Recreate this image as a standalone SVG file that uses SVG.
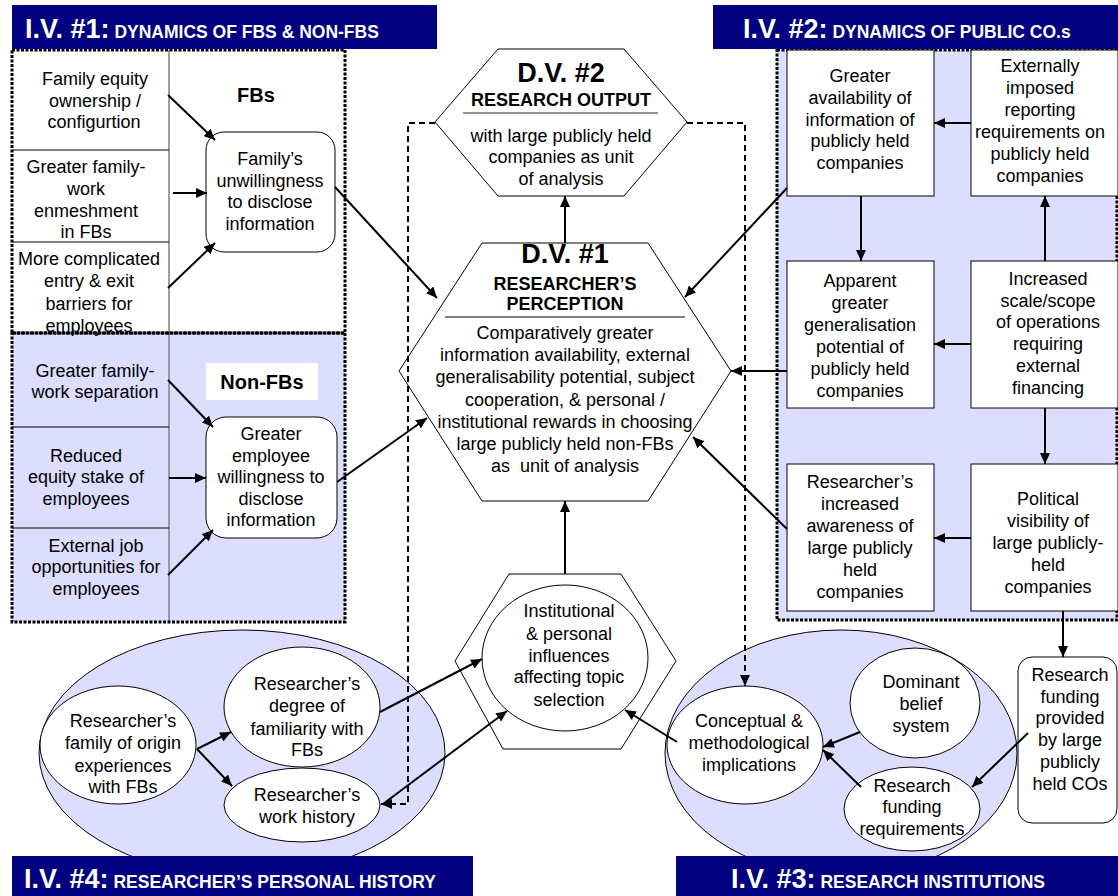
<svg xmlns="http://www.w3.org/2000/svg" width="1118" height="896" viewBox="0 0 1118 896">
  <style>
    text { font-family: "Liberation Sans", Arial, sans-serif; font-size: 18px; fill: #000; text-anchor: middle; }
    .hdr { text-anchor: start; fill: #fff; font-weight: bold; }
    .hbig { font-size: 27px; }
    .hsm { font-size: 17.5px; }
    .b { font-weight: bold; }
    .dv { font-size: 27px; font-weight: bold; }
    .band { fill: #000080; }
    .lav { fill: #DDDDFF; }
    .dot { fill: none; stroke: #000; stroke-width: 3; stroke-dasharray: 3 1.5; }
    .box { fill: #fff; stroke: #000; stroke-width: 1; }
    .arrow { fill: none; stroke: #000; stroke-width: 2; marker-end: url(#ah); }
    .dash { fill: none; stroke: #000; stroke-width: 2; stroke-dasharray: 6 4; marker-end: url(#ah); }
  </style>
  <defs>
    <marker id="ah" markerUnits="userSpaceOnUse" markerWidth="11" markerHeight="10" refX="11" refY="5" orient="auto">
      <path d="M0,0 L11,5 L0,10 z" fill="#000"/>
    </marker>
  </defs>

  <rect width="1118" height="896" fill="#fff"/>

  <!-- I.V. #1 panel: FBs (white) and Non-FBs (lavender) -->
  <g id="iv1">
    <rect x="12" y="333" width="333" height="289" class="lav"/>
    <line x1="169" y1="50" x2="169" y2="622" stroke="#7f7f7f" stroke-width="1.5"/>
    <line x1="12" y1="150" x2="169" y2="150" stroke="#000" stroke-width="1"/>
    <line x1="12" y1="242" x2="169" y2="242" stroke="#000" stroke-width="1"/>
    <line x1="12" y1="427" x2="169" y2="427" stroke="#000" stroke-width="1"/>
    <line x1="12" y1="528" x2="169" y2="528" stroke="#000" stroke-width="1"/>
    <rect x="12" y="50" width="333" height="283" class="dot"/>
    <rect x="12" y="333" width="333" height="289" class="dot"/>
  </g>

  <g id="iv1-header">
    <rect x="12" y="5" width="425" height="44" class="band"/>
    <text x="25" y="38" class="hdr"><tspan class="hbig">I.V. #1:</tspan><tspan class="hsm"> DYNAMICS OF FBS &amp; NON-FBS</tspan></text>
  </g>

  <g id="fb-equity"><text x="95" y="85">Family equity</text><text x="95" y="107">ownership /</text><text x="94" y="128">configurtion</text></g>
  <g id="fb-enmeshment"><text x="86" y="173">Greater family-</text><text x="86" y="195">work</text><text x="86" y="217">enmeshment</text><text x="86" y="238">in FBs</text></g>
  <g id="fb-barriers"><text x="89" y="265">More complicated</text><text x="89" y="287">entry &amp; exit</text><text x="89" y="310">barriers for</text><text x="89" y="332">employees</text></g>
  <g id="fb-label"><text x="256" y="102" class="b" style="font-size:20px">FBs</text></g>
  <g id="fb-unwilling">
    <rect x="206" y="132" width="129" height="120" rx="18" class="box"/>
    <text x="270" y="165">Family’s</text><text x="270" y="187">unwillingness</text><text x="270" y="208">to disclose</text><text x="270" y="230">information</text>
  </g>

  <g id="nfb-separation"><text x="95" y="377">Greater family-</text><text x="95" y="398">work separation</text></g>
  <g id="nfb-equity"><text x="86" y="462">Reduced</text><text x="86" y="483">equity stake of</text><text x="86" y="505">employees</text></g>
  <g id="nfb-jobs"><text x="96" y="552">External job</text><text x="96" y="573">opportunities for</text><text x="96" y="595">employees</text></g>
  <g id="nfb-label">
    <rect x="206" y="363" width="112" height="37" fill="#fff"/>
    <text x="262" y="389" class="b" style="font-size:20px">Non-FBs</text>
  </g>
  <g id="nfb-willing">
    <rect x="206" y="417" width="131" height="121" rx="20" class="box"/>
    <text x="271" y="440">Greater</text><text x="271" y="462">employee</text><text x="271" y="483">willingness to</text><text x="271" y="505">disclose</text><text x="271" y="526">information</text>
  </g>

  <!-- I.V. #2 panel: public companies -->
  <g id="iv2">
    <rect x="777" y="50" width="341" height="570" class="lav"/>
    <rect x="777" y="50" width="340" height="570" class="dot"/>
  </g>
  <g id="iv2-header">
    <rect x="713" y="5" width="405" height="44" class="band"/>
    <text x="743" y="38" class="hdr"><tspan class="hbig">I.V. #2:</tspan><tspan class="hsm"> DYNAMICS OF PUBLIC CO.s</tspan></text>
  </g>
  <g id="pc-availability">
    <rect x="787" y="50" width="147" height="146" class="box"/>
    <text x="860" y="82">Greater</text><text x="860" y="104">availability of</text><text x="860" y="126">information of</text><text x="860" y="147">publicly held</text><text x="860" y="169">companies</text>
  </g>
  <g id="pc-reporting">
    <rect x="971" y="50" width="147" height="146" class="box"/>
    <text x="1040" y="72">Externally</text><text x="1040" y="94">imposed</text><text x="1040" y="116">reporting</text><text x="1040" y="138">requirements on</text><text x="1040" y="160">publicly held</text><text x="1040" y="182">companies</text>
  </g>
  <g id="pc-generalisation">
    <rect x="787" y="261" width="147" height="147" class="box"/>
    <text x="860" y="287">Apparent</text><text x="860" y="309">greater</text><text x="860" y="331">generalisation</text><text x="860" y="353">potential of</text><text x="860" y="375">publicly held</text><text x="860" y="397">companies</text>
  </g>
  <g id="pc-scale">
    <rect x="971" y="261" width="147" height="147" class="box"/>
    <text x="1048" y="285">Increased</text><text x="1048" y="307">scale/scope</text><text x="1048" y="328">of operations</text><text x="1048" y="350">requiring</text><text x="1048" y="372">external</text><text x="1048" y="394">financing</text>
  </g>
  <g id="pc-awareness">
    <rect x="787" y="464" width="147" height="147" class="box"/>
    <text x="860" y="488">Researcher’s</text><text x="860" y="510">increased</text><text x="860" y="532">awareness of</text><text x="860" y="554">large publicly</text><text x="860" y="576">held</text><text x="860" y="598">companies</text>
  </g>
  <g id="pc-visibility">
    <rect x="971" y="464" width="147" height="147" class="box"/>
    <text x="1048" y="505">Political</text><text x="1048" y="527">visibility of</text><text x="1048" y="549">large publicly-</text><text x="1048" y="571">held</text><text x="1048" y="593">companies</text>
  </g>

  <!-- Dependent variables -->
  <g id="dv2">
    <polygon points="498,49 624,49 687,122 624,196 498,196 435,122" class="box"/>
    <text x="561" y="82" class="dv">D.V. #2</text>
    <text x="561" y="106" class="b">RESEARCH OUTPUT</text>
    <line x1="463" y1="113" x2="658" y2="113" stroke="#6f6f6f" stroke-width="1.5"/>
    <text x="561" y="142">with large publicly held</text><text x="561" y="163">companies as unit</text><text x="561" y="185">of analysis</text>
  </g>
  <g id="dv1">
    <polygon points="482,243 648,243 731,371 648,501 482,501 399,371" class="box"/>
    <text x="565" y="263" class="dv">D.V. #1</text>
    <text x="565" y="290" class="b">RESEARCHER’S</text>
    <text x="565" y="310" class="b">PERCEPTION</text>
    <line x1="445" y1="317" x2="685" y2="317" stroke="#000" stroke-width="1"/>
    <text x="565" y="339">Comparatively greater</text>
    <text x="565" y="361">information availability, external</text>
    <text x="565" y="383">generalisability potential, subject</text>
    <text x="565" y="406">cooperation, &amp; personal /</text>
    <text x="565" y="428">institutional rewards in choosing</text>
    <text x="565" y="450">large publicly held non-FBs</text>
    <text x="565" y="472" xml:space="preserve">as  unit of analysis</text>
  </g>

  <!-- Topic-selection influences -->
  <g id="influences">
    <polygon points="509,574 621,574 676,661 621,749 503,749 455,661" class="box"/>
    <ellipse cx="565" cy="658" rx="83" ry="73" class="box"/>
    <text x="569" y="617">Institutional</text><text x="569" y="640">&amp; personal</text><text x="569" y="662">influences</text><text x="569" y="683">affecting topic</text><text x="569" y="706">selection</text>
  </g>

  <!-- I.V. #4: personal history -->
  <g id="iv4">
    <ellipse cx="242" cy="753" rx="203" ry="123" class="lav" stroke="#000" stroke-width="1"/>
  </g>
  <g id="ph-origin">
    <ellipse cx="118" cy="745" rx="78" ry="59" class="box"/>
    <text x="123" y="727">Researcher’s</text><text x="123" y="749">family of origin</text><text x="123" y="772">experiences</text><text x="123" y="793">with FBs</text>
  </g>
  <g id="ph-familiarity">
    <ellipse cx="302" cy="707" rx="78" ry="60" class="box"/>
    <text x="307" y="690">Researcher’s</text><text x="307" y="712">degree of</text><text x="307" y="735">familiarity with</text><text x="307" y="756">FBs</text>
  </g>
  <g id="ph-work">
    <ellipse cx="302" cy="805" rx="78" ry="37" class="box"/>
    <text x="307" y="801">Researcher’s</text><text x="307" y="823">work history</text>
  </g>

  <!-- I.V. #3: research institutions -->
  <g id="iv3">
    <ellipse cx="841" cy="753" rx="176" ry="123" class="lav" stroke="#000" stroke-width="1"/>
  </g>
  <g id="ri-implications">
    <ellipse cx="745" cy="745" rx="78" ry="59" class="box"/>
    <text x="749" y="727">Conceptual &amp;</text><text x="749" y="749">methodological</text><text x="749" y="771">implications</text>
  </g>
  <g id="ri-belief">
    <ellipse cx="915" cy="703" rx="65" ry="55" class="box"/>
    <text x="921" y="688">Dominant</text><text x="921" y="710">belief</text><text x="921" y="732">system</text>
  </g>
  <g id="ri-funding-req">
    <ellipse cx="912" cy="809" rx="68" ry="42" class="box"/>
    <text x="912" y="792">Research</text><text x="912" y="813">funding</text><text x="912" y="835">requirements</text>
  </g>
  <g id="ri-funding-provided">
    <rect x="1018" y="657" width="99" height="166" rx="14" class="box"/>
    <text x="1070" y="681">Research</text><text x="1070" y="703">funding</text><text x="1070" y="724">provided</text><text x="1070" y="746">by large</text><text x="1070" y="768">publicly</text><text x="1070" y="790">held COs</text>
  </g>

  <g id="iv4-header">
    <rect x="12" y="856" width="461" height="40" class="band"/>
    <text x="24" y="888" class="hdr"><tspan class="hbig">I.V. #4:</tspan><tspan class="hsm"> RESEARCHER’S PERSONAL HISTORY</tspan></text>
  </g>
  <g id="iv3-header">
    <rect x="676" y="856" width="442" height="40" class="band"/>
    <text x="731" y="888" class="hdr"><tspan class="hbig">I.V. #3:</tspan><tspan class="hsm"> RESEARCH INSTITUTIONS</tspan></text>
  </g>

  <!-- Connectors -->
  <g id="connectors">
    <path class="arrow" d="M168,95 L215,140"/>
    <path class="arrow" d="M173,193 L207,193"/>
    <path class="arrow" d="M168,288 L215,243"/>
    <path class="arrow" d="M168,380 L213,427"/>
    <path class="arrow" d="M169,478 L206,478"/>
    <path class="arrow" d="M168,575 L213,530"/>
    <path class="arrow" d="M335,187 L437,298"/>
    <path class="arrow" d="M337,482 L427,418"/>
    <path class="arrow" d="M787,188 L685,297"/>
    <path class="arrow" d="M787,371 L731,371"/>
    <path class="arrow" d="M787,529 L693,437"/>
    <path class="arrow" d="M565,243 L565,196"/>
    <path class="arrow" d="M565,574 L565,501"/>
    <path class="arrow" d="M971,123 L934,123"/>
    <path class="arrow" d="M861,196 L861,261"/>
    <path class="arrow" d="M1045,261 L1045,196"/>
    <path class="arrow" d="M971,344 L934,344"/>
    <path class="arrow" d="M1045,408 L1045,464"/>
    <path class="arrow" d="M971,538 L934,538"/>
    <path class="arrow" d="M1063,611 L1063,657"/>
    <path class="arrow" d="M1028,733 L972,787"/>
    <path class="arrow" d="M860,732 L823,747"/>
    <path class="arrow" d="M861,787 L823,750"/>
    <path class="arrow" d="M677,742 L625,710"/>
    <path class="arrow" d="M197,749 L231,732"/>
    <path class="arrow" d="M197,749 L232,786"/>
    <path class="arrow" d="M380,712 L482,659"/>
    <path class="arrow" d="M383,804 L507,711"/>
    <path class="dash" d="M435,123 H408 V804 H381"/>
    <path class="dash" d="M687,123 H745 V686"/>
  </g>
</svg>
